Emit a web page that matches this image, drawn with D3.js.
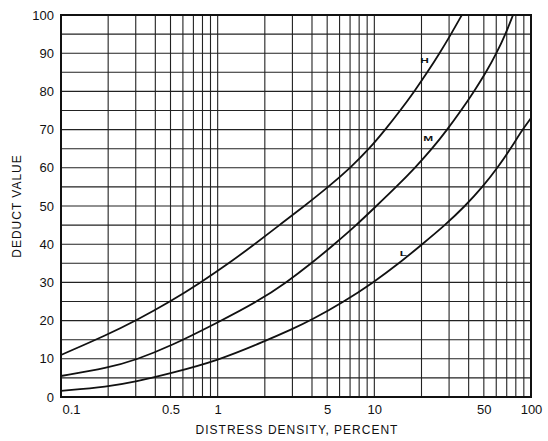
<!DOCTYPE html>
<html><head><meta charset="utf-8">
<script src="https://cdn.jsdelivr.net/npm/d3@7"></script>
<style>body{margin:0;background:#fff}svg{display:block}</style>
</head><body>
<svg id="c" width="548" height="441"></svg>
<script>
const xTickVals = [0.1, 0.5, 1, 5, 10, 50, 100];
const xTickLabels = ["0.1", "0.5", "1", "5", "10", "50", "100"];
const yTickVals = [0, 10, 20, 30, 40, 50, 60, 70, 80, 90, 100];
const hX = [0.1, 0.2, 0.3, 0.5, 0.78, 1.18, 1.72, 2.48, 3.58, 5.09, 7.03, 9.29, 11.75, 14.65, 18, 21.8, 26.1, 30.9, 36.2];
const hY = [11, 16.4, 20, 25, 30, 35, 40, 45, 50, 55, 60, 65, 70, 75, 80, 85, 90, 95, 100];
const mX = [0.1, 0.2, 0.3, 0.5, 1, 1.8, 2.75, 3.97, 5.56, 7.68, 10.3, 13.8, 18.2, 23.4, 29.2, 35.8, 43.3, 51.7, 60.3, 68.8, 76.8];
const mY = [5.5, 7.6, 9.7, 13.3, 19.5, 25, 30, 35, 40, 45, 50, 55, 60, 65, 70, 75, 80, 85, 90, 95, 100];
const lX = [0.1, 0.2, 0.3, 0.5, 1, 2, 3, 3.91, 6.44, 9.86, 14.4, 20.2, 28.3, 38, 49.1, 61.2, 74, 88.3, 100];
const lY = [1.6, 2.7, 4.0, 6.2, 9.5, 14.6, 17.8, 20, 25, 30, 35, 40, 45, 50, 55, 60, 65, 70, 73];
const curveLabels = ["H", "M", "L"];
const labelAt = [[20.9, 87.9], [22.1, 67.5], [15.3, 37.4]];

const svg = d3.select("#c");
const L = 61, R = 531, T = 15, B = 397;
const x = d3.scaleLog().domain([0.1, 100]).range([L, R]);
const y = d3.scaleLinear().domain([0, 100]).range([B, T]);
const font = "'Liberation Sans', Arial, sans-serif";

// vertical grid
const vg = [];
[0.1, 1, 10].forEach(d => { for (let k = 1; k <= 9; k++) vg.push(d * k); });
svg.append("g").selectAll("line").data(vg.filter(v => v > 0.1)).join("line")
  .attr("x1", d => x(d)).attr("x2", d => x(d)).attr("y1", T).attr("y2", B)
  .attr("stroke", "#222").attr("stroke-width", 1.1);
// horizontal grid
svg.append("g").selectAll("line").data(d3.range(5, 100, 5)).join("line")
  .attr("x1", L).attr("x2", R).attr("y1", d => y(d)).attr("y2", d => y(d))
  .attr("stroke", "#222").attr("stroke-width", 1.1);
// frame
svg.append("rect").attr("x", L).attr("y", T).attr("width", R - L).attr("height", B - T)
  .attr("fill", "none").attr("stroke", "#111").attr("stroke-width", 2);

// axes (labels only)
const xa = d3.axisBottom(x).tickValues(xTickVals).tickFormat((d, i) => xTickLabels[i]).tickSize(0).tickPadding(8);
const gx = svg.append("g").attr("transform", `translate(0,${B})`).call(xa);
gx.select(".domain").remove();
gx.selectAll("text").attr("font-family", font).attr("font-size", 13).attr("fill", "#111");
gx.selectAll("text").filter(d => d === 0.1).attr("text-anchor", "start").attr("dx", 1);
const ya = d3.axisLeft(y).tickValues(yTickVals).tickSize(0).tickPadding(7);
const gy = svg.append("g").attr("transform", `translate(${L},0)`).call(ya);
gy.select(".domain").remove();
gy.selectAll("text").attr("font-family", font).attr("font-size", 13).attr("fill", "#111");

// curves (smoothed through the read points)
const line = d3.line().x(d => x(d[0])).y(d => y(d[1])).curve(d3.curveBasis);
[[hX, hY], [mX, mY], [lX, lY]].forEach(([xs, ys]) => {
  svg.append("path").datum(xs.map((v, i) => [v, ys[i]]))
    .attr("d", line).attr("fill", "none").attr("stroke", "#111").attr("stroke-width", 1.8);
});
// curve labels
curveLabels.forEach((t, i) => {
  svg.append("text")
    .attr("transform", `translate(${x(labelAt[i][0])},${y(labelAt[i][1])}) scale(1.25,0.85)`)
    .attr("font-family", font).attr("font-size", 9.5).attr("font-weight", "bold")
    .attr("text-anchor", "middle").attr("dominant-baseline", "middle").attr("fill", "#111").text(t);
});

// axis titles
svg.append("text").attr("x", 297).attr("y", 434).attr("text-anchor", "middle")
  .attr("font-family", font).attr("font-size", 12).attr("letter-spacing", 1).attr("fill", "#111")
  .text("DISTRESS DENSITY, PERCENT");
svg.append("text").attr("transform", "translate(21,206) rotate(-90)").attr("text-anchor", "middle")
  .attr("font-family", font).attr("font-size", 12).attr("letter-spacing", 1).attr("fill", "#111")
  .text("DEDUCT VALUE");
</script>
</body></html>
